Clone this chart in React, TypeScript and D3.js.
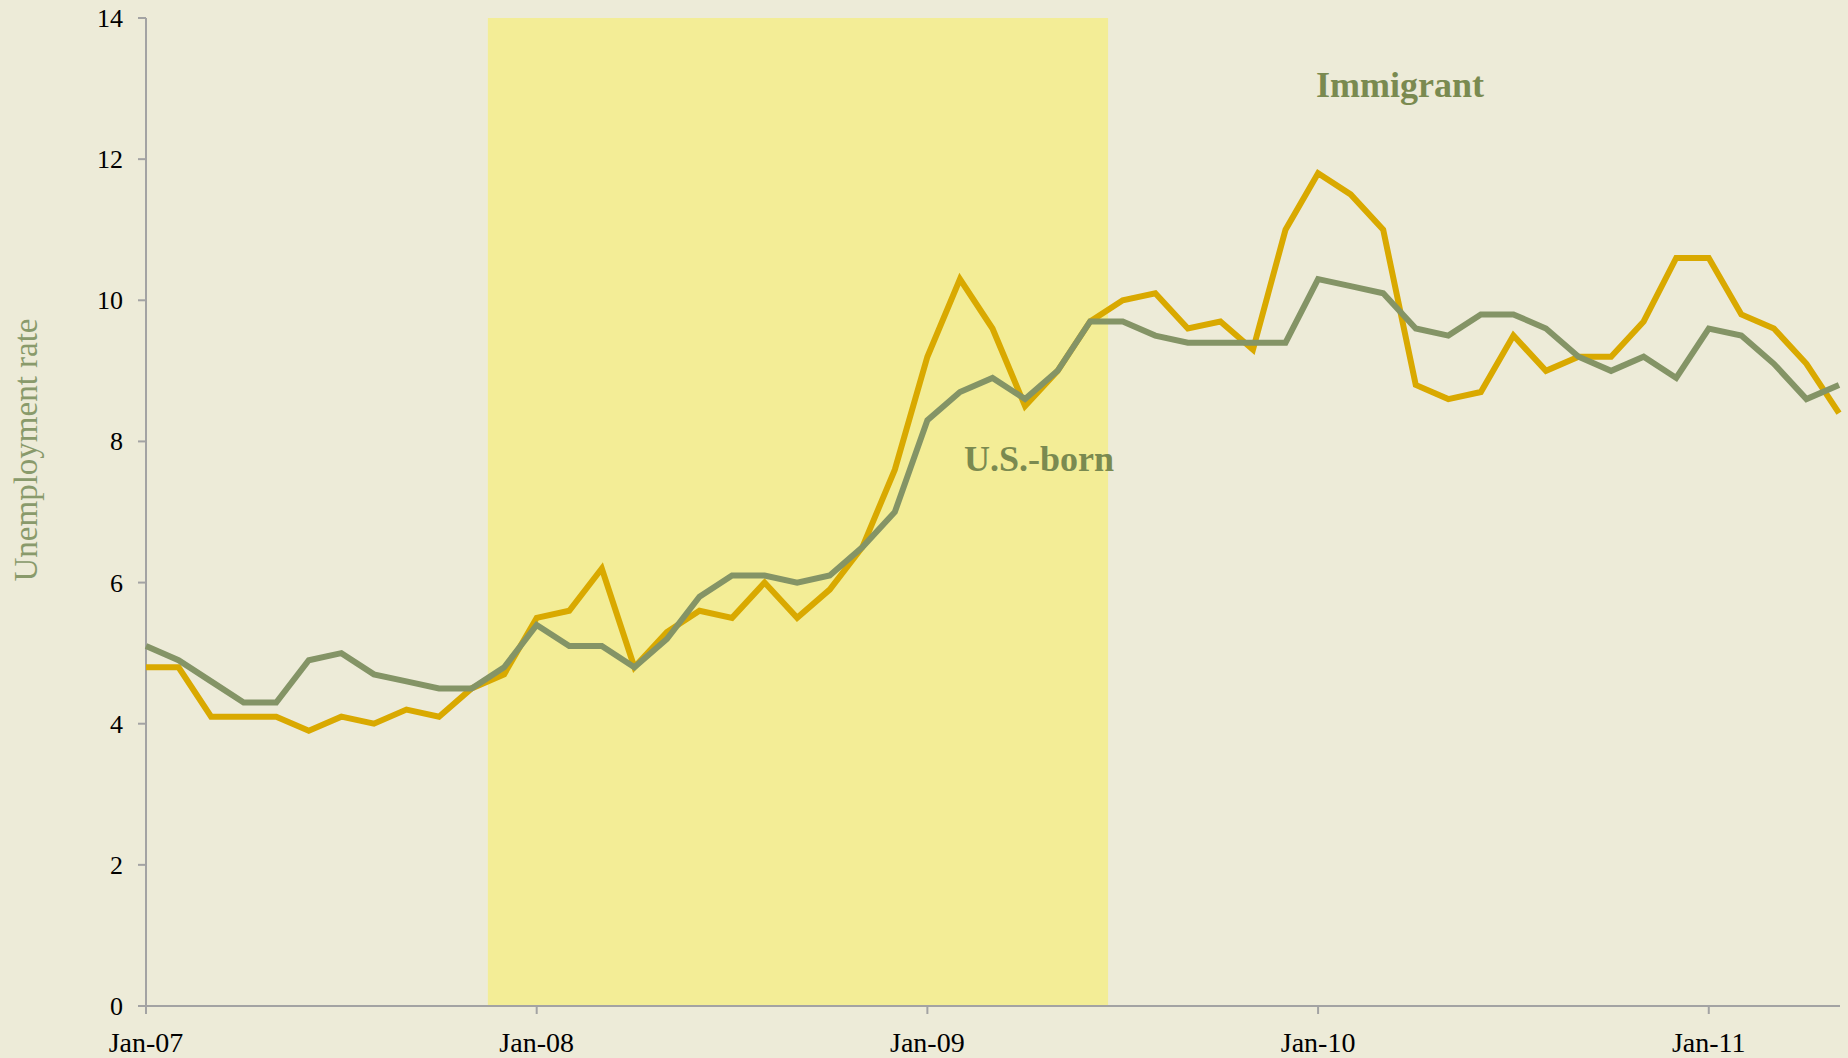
import React from "react";
import * as d3 from "d3";

const months: string[] = [];
const startYear = 2007;
for (let i = 0; i < 53; i++) {
  const y = startYear + Math.floor(i / 12);
  months.push(`${y}-${String((i % 12) + 1).padStart(2, "0")}`);
}

const immigrant = [
  4.8, 4.8, 4.1, 4.1, 4.1, 3.9, 4.1, 4.0, 4.2, 4.1, 4.5, 4.7,
  5.5, 5.6, 6.2, 4.8, 5.3, 5.6, 5.5, 6.0, 5.5, 5.9, 6.5, 7.6,
  9.2, 10.3, 9.6, 8.5, 9.0, 9.7, 10.0, 10.1, 9.6, 9.7, 9.3, 11.0,
  11.8, 11.5, 11.0, 8.8, 8.6, 8.7, 9.5, 9.0, 9.2, 9.2, 9.7, 10.6,
  10.6, 9.8, 9.6, 9.1, 8.4,
];

const usBorn = [
  5.1, 4.9, 4.6, 4.3, 4.3, 4.9, 5.0, 4.7, 4.6, 4.5, 4.5, 4.8,
  5.4, 5.1, 5.1, 4.8, 5.2, 5.8, 6.1, 6.1, 6.0, 6.1, 6.5, 7.0,
  8.3, 8.7, 8.9, 8.6, 9.0, 9.7, 9.7, 9.5, 9.4, 9.4, 9.4, 9.4,
  10.3, 10.2, 10.1, 9.6, 9.5, 9.8, 9.8, 9.6, 9.2, 9.0, 9.2, 8.9,
  9.6, 9.5, 9.1, 8.6, 8.8,
];

const xTickIndex = [0, 12, 24, 36, 48];
const xTickLabels = ["Jan-07", "Jan-08", "Jan-09", "Jan-10", "Jan-11"];
const yTicks = [0, 2, 4, 6, 8, 10, 12, 14];
const recession = [10.5, 29.55];

const W = 1848;
const H = 1058;

export default function App() {
  const x = d3.scaleLinear().domain([0, 52]).range([146, 1839]);
  const y = d3.scaleLinear().domain([0, 14]).range([1006, 18]);
  const line = d3
    .line<number>()
    .x((_, i) => x(i))
    .y((d) => y(d));

  const axisColor = "#a3a3a3";
  return (
    <svg
      width={W}
      height={H}
      style={{ position: "fixed", left: 0, top: 0, display: "block" }}
      fontFamily="'Liberation Serif', 'Times New Roman', serif"
    >
      <rect x={0} y={0} width={W} height={H} fill="#EDEBD8" />
      <rect
        x={x(recession[0])}
        y={y(14)}
        width={x(recession[1]) - x(recession[0])}
        height={y(0) - y(14)}
        fill="#F3ED96"
      />
      {/* y axis */}
      <line x1={x(0)} x2={x(0)} y1={y(14)} y2={y(0) + 8} stroke={axisColor} strokeWidth={2} />
      {yTicks.map((t) => (
        <g key={t}>
          <line x1={x(0) - 8} x2={x(0)} y1={y(t)} y2={y(t)} stroke={axisColor} strokeWidth={2} />
          <text
            x={123}
            y={y(t) + 9}
            textAnchor="end"
            fontSize={26}
            fill="#000"
          >
            {t}
          </text>
        </g>
      ))}
      {/* x axis */}
      <line x1={x(0) - 8} x2={1840} y1={y(0)} y2={y(0)} stroke={axisColor} strokeWidth={2} />
      {xTickIndex.map((ti, k) => (
        <g key={ti}>
          <line x1={x(ti)} x2={x(ti)} y1={y(0)} y2={y(0) + 8} stroke={axisColor} strokeWidth={2} />
          <text x={x(ti)} y={1052} textAnchor="middle" fontSize={28} fill="#000">
            {xTickLabels[k]}
          </text>
        </g>
      ))}
      <path d={line(immigrant) || ""} fill="none" stroke="#D9A900" strokeWidth={6} strokeLinejoin="miter" />
      <path d={line(usBorn) || ""} fill="none" stroke="#849466" strokeWidth={6} strokeLinejoin="miter" />
      <text x={1400} y={97} textAnchor="middle" fontSize={36} fontWeight="bold" fill="#7A8A50">
        Immigrant
      </text>
      <text x={1039} y={471} textAnchor="middle" fontSize={36} fontWeight="bold" fill="#7A8A50">
        U.S.-born
      </text>
      <text
        transform="translate(37,450) rotate(-90)"
        textAnchor="middle"
        fontSize={33}
        fill="#899A6B"
      >
        Unemployment rate
      </text>
    </svg>
  );
}
